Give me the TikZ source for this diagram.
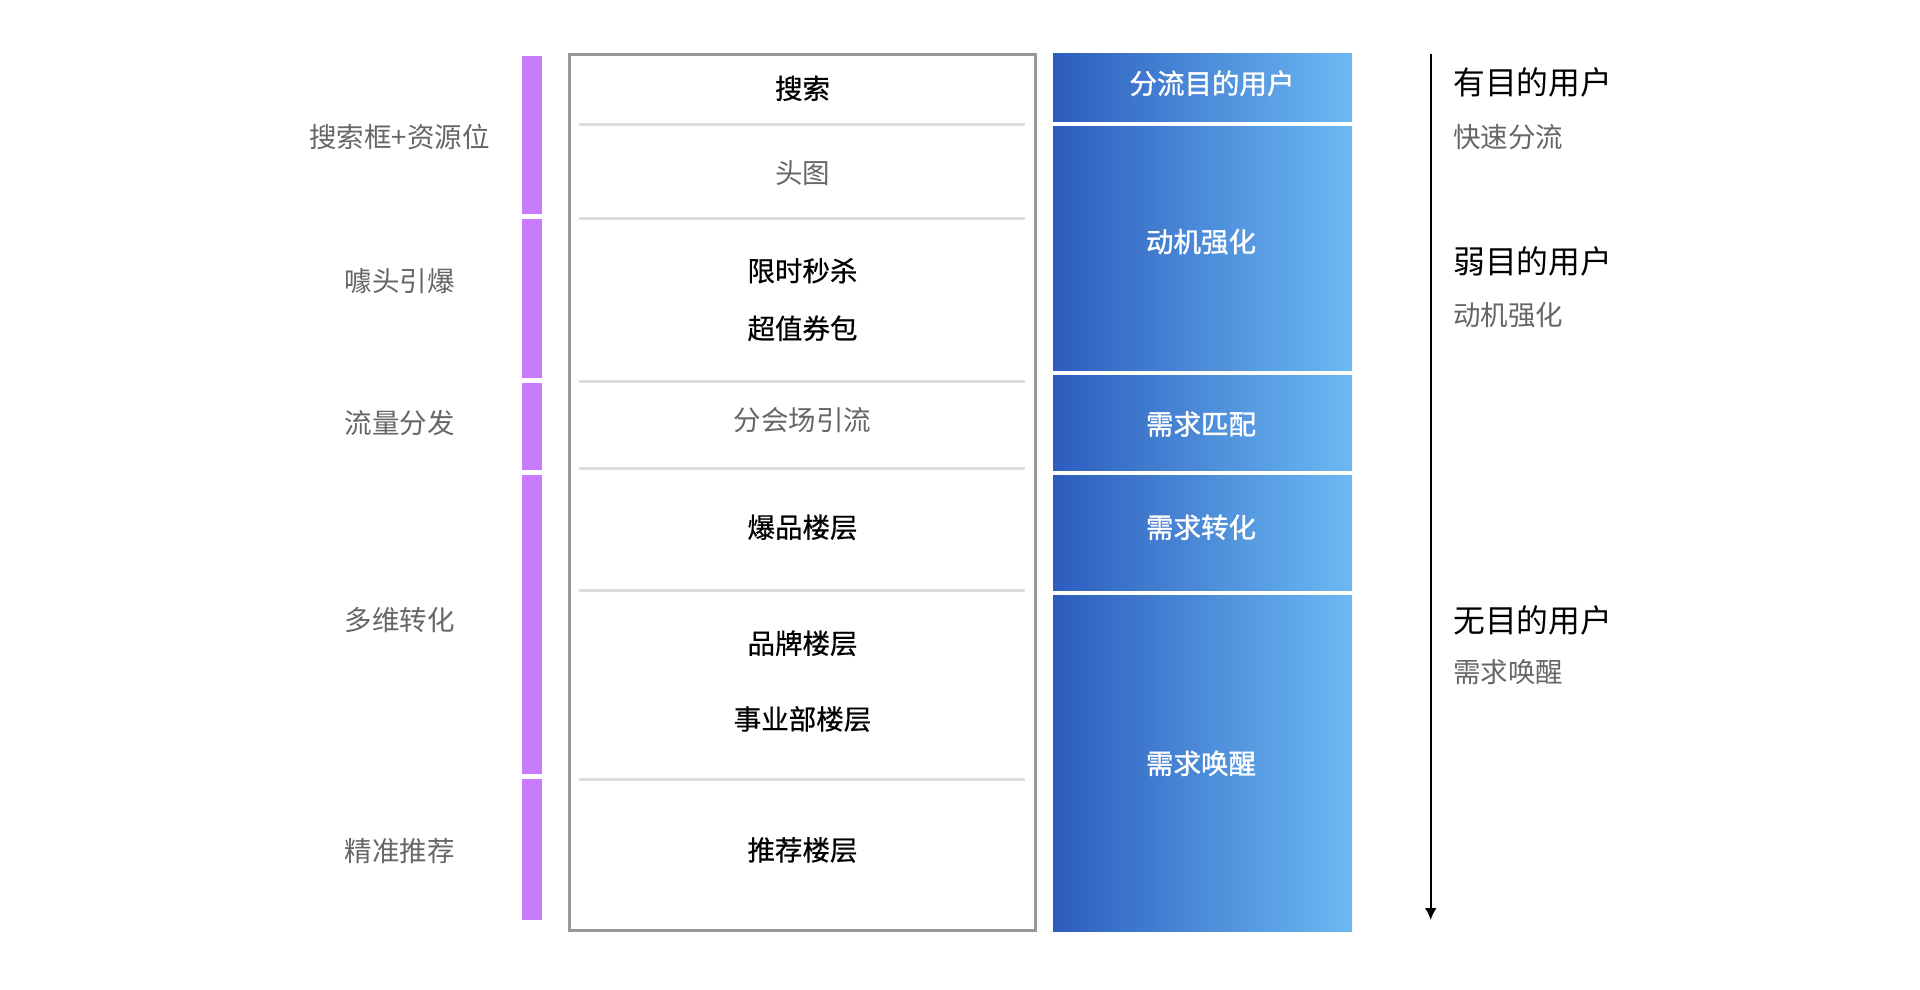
\documentclass[tikz,border=0pt]{standalone}
\usepackage{fontspec}
\setmainfont{Noto Sans CJK SC}
\newfontfamily\cjkmed[FakeBold=1.2]{Noto Sans CJK SC}
\newfontfamily\cjksemi[FakeBold=0.6]{Noto Sans CJK SC}
\usetikzlibrary{arrows.meta}
\definecolor{barpurple}{RGB}{200,122,252}
\definecolor{outlinegray}{RGB}{153,153,153}
\definecolor{sepgray}{RGB}{221,221,221}
\definecolor{txtgray}{RGB}{102,102,102}
\definecolor{blueL}{RGB}{44,93,190}
\definecolor{blueR}{RGB}{108,185,243}
\tikzset{
  lefttxt/.style={text=txtgray, inner sep=0pt, font=\fontsize{27.5}{33}\selectfont},
  midtxt/.style={text=black, inner sep=0pt, font=\cjksemi\fontsize{27.5}{33}\selectfont},
  midgray/.style={text=txtgray, inner sep=0pt, font=\fontsize{27.5}{33}\selectfont},
  bluetxt/.style={text=white, inner sep=0pt, font=\cjkmed\fontsize{27.5}{33}\selectfont},
  ttltxt/.style={text=black, inner sep=0pt, anchor=west, font=\fontsize{31.8}{38}\selectfont},
  subtxt/.style={text=txtgray, inner sep=0pt, anchor=west, font=\fontsize{27.5}{33}\selectfont},
  sepline/.style={draw=sepgray, line width=2.5pt},
  purplebar/.style={fill=barpurple, draw=none},
  bluebox/.style={left color=blueL, right color=blueR, draw=none},
}
\begin{document}
\begin{tikzpicture}[x=1pt,y=-1pt]
\useasboundingbox (0,0) rectangle (1920,990);
\fill[white] (0,0) rectangle (1920,990);

% purple bars
\path[purplebar] (521.5,55.7) rectangle (542.3,214);
\path[purplebar] (521.5,219.3) rectangle (542.3,377.5);
\path[purplebar] (521.5,382.7) rectangle (542.3,470);
\path[purplebar] (521.5,474.7) rectangle (542.3,774);
\path[purplebar] (521.5,779.3) rectangle (542.3,920);

% left labels
\node[lefttxt] (l1) at (399.5,136.7) {搜索框+资源位};
\node[lefttxt] (l2) at (399.5,280.7) {噱头引爆};
\node[lefttxt] (l3) at (399.5,423.3) {流量分发};
\node[lefttxt] (l4) at (399.5,620) {多维转化};
\node[lefttxt] (l5) at (399.5,851) {精准推荐};

% middle column outline
\draw[outlinegray, line width=3pt] (569.2,54.3) rectangle (1035,930.5);
% separators
\foreach \yy in {124.7,218.3,381.3,468.7,590.7,779.3}
  \draw[sepline] (579.4,\yy) -- (1025.3,\yy);

% middle texts
\node[midtxt] (m1) at (802.5,88.3) {搜索};
\node[midgray] (m2) at (802.5,172.7) {头图};
\node[midtxt] (m3) at (802.5,270.7) {限时秒杀};
\node[midtxt] (m4) at (802.5,328.3) {超值券包};
\node[midgray] (m5) at (802.5,420) {分会场引流};
\node[midtxt] (m6) at (802.5,527.3) {爆品楼层};
\node[midtxt] (m7) at (802.5,643.3) {品牌楼层};
\node[midtxt] (m8) at (802.5,719) {事业部楼层};
\node[midtxt] (m9) at (802.5,850) {推荐楼层};

% blue boxes
\shade[bluebox] (1053,53.5) rectangle (1352,121.3);
\shade[bluebox] (1053,126.7) rectangle (1352,370.7);
\shade[bluebox] (1053,375.3) rectangle (1352,470);
\shade[bluebox] (1053,475) rectangle (1352,590);
\shade[bluebox] (1053,595) rectangle (1352,931);

\node[bluetxt] (b1) at (1212,83.3) {分流目的用户};
\node[bluetxt] (b2) at (1201,241.7) {动机强化};
\node[bluetxt] (b3) at (1201,424) {需求匹配};
\node[bluetxt] (b4) at (1201,527.3) {需求转化};
\node[bluetxt] (b5) at (1201,763.3) {需求唤醒};

% arrow
\coordinate (at) at (1430.7,54);
\coordinate (ab) at (1430.7,920);
\draw[black, line width=2pt, -{Latex[length=12pt,width=12pt]}] (at) -- (ab);

% right texts
\node[ttltxt] (r1) at (1453,82.7) {有目的用户};
\node[subtxt] (r2) at (1453,136.7) {快速分流};
\node[ttltxt] (r3) at (1453,261.7) {弱目的用户};
\node[subtxt] (r4) at (1453,315) {动机强化};
\node[ttltxt] (r5) at (1453,620) {无目的用户};
\node[subtxt] (r6) at (1453,671.7) {需求唤醒};
\end{tikzpicture}
\end{document}
